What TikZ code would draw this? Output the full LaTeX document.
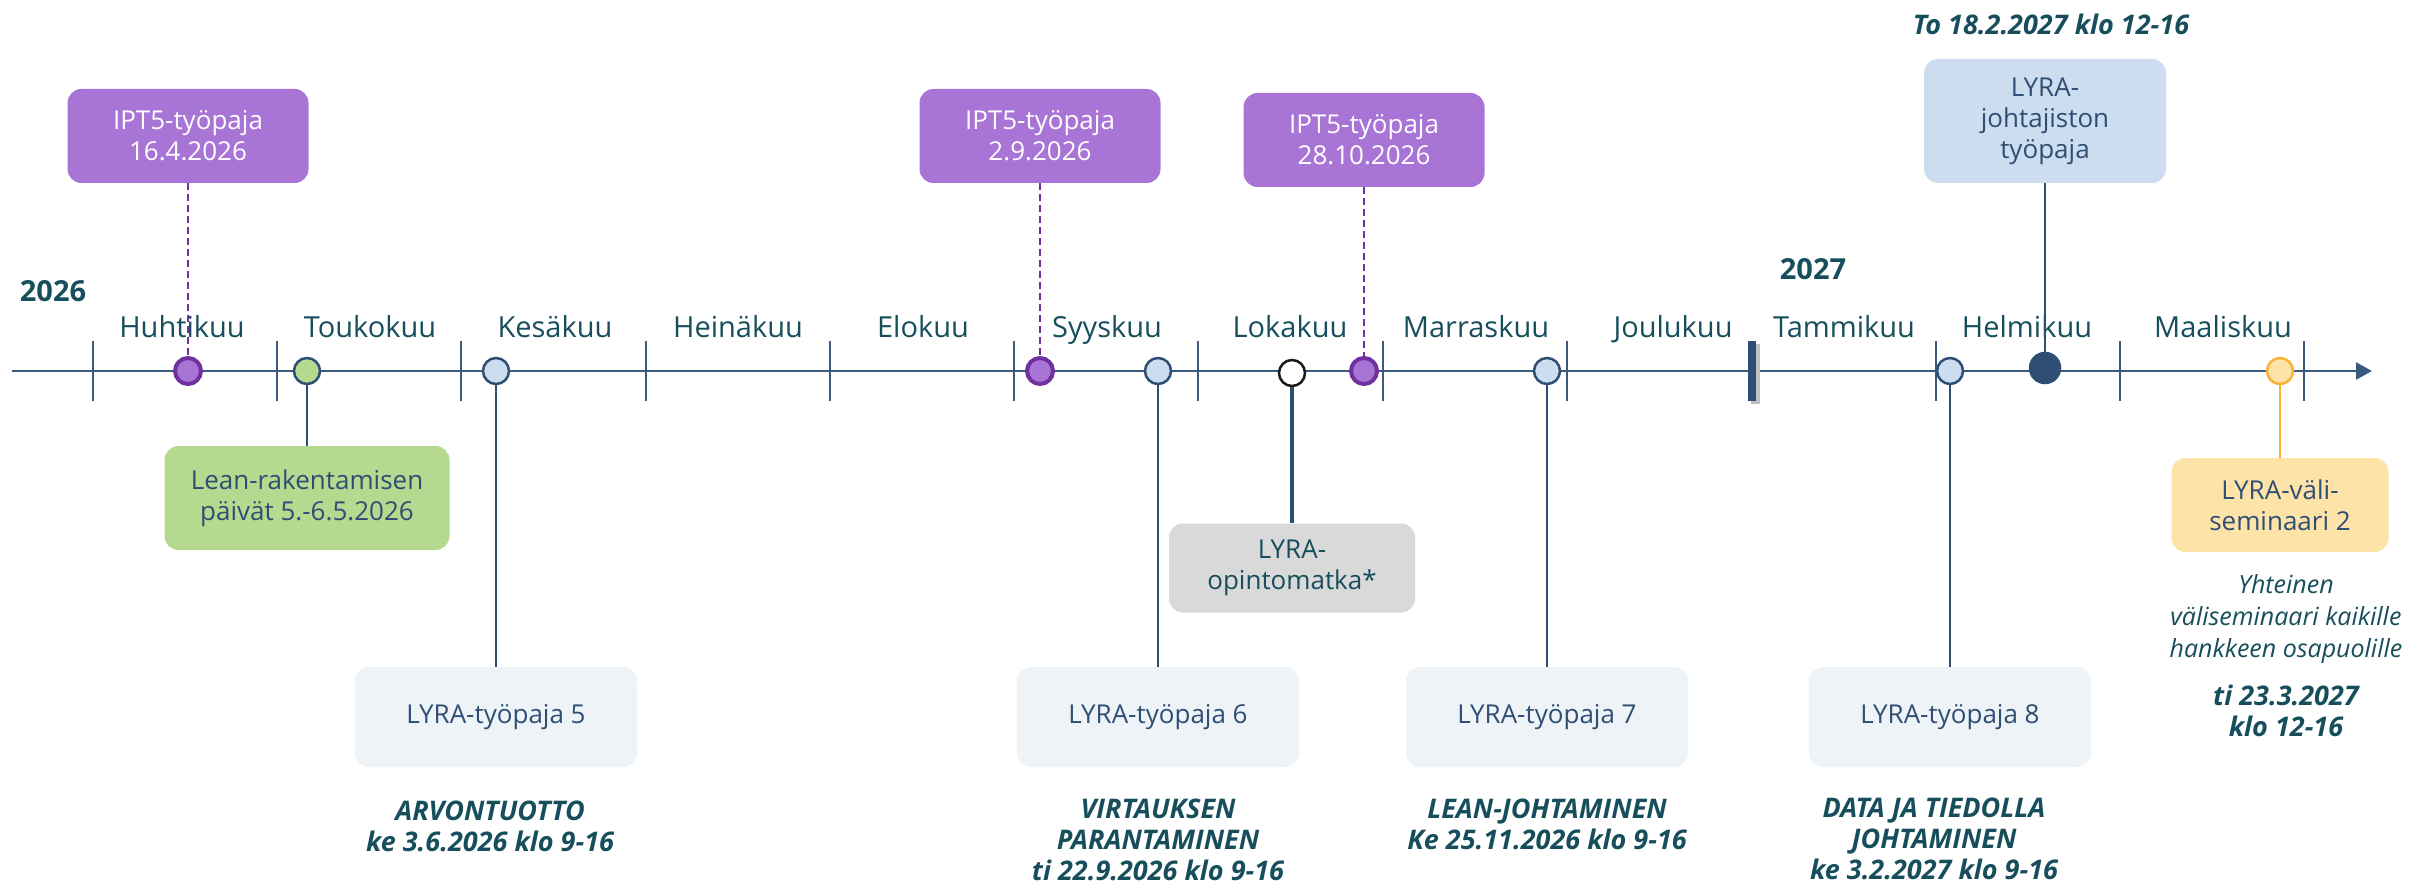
\documentclass[tikz,border=0pt]{standalone}
\usepackage{fontspec}
\setmainfont{Open Sans}
\usetikzlibrary{positioning, arrows.meta}

\definecolor{axisblue}{HTML}{3B5A82}
\definecolor{navy}{HTML}{2F4E74}
\definecolor{teal}{HTML}{174E5C}
\definecolor{iptfill}{HTML}{A874D6}
\definecolor{iptdark}{HTML}{7030A0}
\definecolor{lightblue}{HTML}{CCDDEF}
\definecolor{palebox}{HTML}{EEF3F8}
\definecolor{leangreen}{HTML}{B5D98E}
\definecolor{tripgray}{HTML}{D9D9D9}
\definecolor{valifill}{HTML}{FEE3A9}
\definecolor{valiline}{HTML}{F9B233}

\begin{document}
\begin{tikzpicture}[x=1pt, y=-1pt,
    box/.style={rounded corners=14pt, align=center, inner sep=0pt,
                font=\fontsize{26}{31}\selectfont},
    ipt/.style={box, fill=iptfill, text=white, minimum width=241pt, minimum height=94pt},
    lyra/.style={box, fill=palebox, text=navy, minimum width=282pt, minimum height=100pt},
    dot/.style={circle, inner sep=0pt, minimum size=26pt, draw=navy, line width=2.5pt},
    iptdot/.style={dot, fill=iptfill, draw=iptdark, line width=4pt},
    bluedot/.style={dot, fill=lightblue},
    iptline/.style={iptdark, dashed, line width=2.5pt, dash pattern=on 7pt off 4pt},
    link/.style={navy, line width=2.5pt},
    when/.style={align=center, inner sep=0pt, text=teal,
                 font=\fontsize{27}{31}\selectfont\bfseries\itshape},
    month/.style={anchor=base, text=teal, font=\fontsize{29}{34}\selectfont},
    year/.style={text=teal, font=\fontsize{29}{34}\selectfont\bfseries}]

  \useasboundingbox (0,0) rectangle (2414,885);

  % time axis
  \coordinate (start) at (12,371);
  \coordinate (end) at (2372,371);
  \draw[axisblue, line width=2.5pt, -{Triangle[length=16pt, width=17pt]}] (start) -- (end);
  \foreach \i in {0,...,8,10,11,12}
    \draw[axisblue, line width=2pt] ({92.6+184.3*\i},341) -- ++(0,60);
  \fill[black!25] (1751,344) rectangle (1760,404);
  \fill[navy] (1748,341) rectangle (1756,401);

  \foreach \x/\m in {182/Huhtikuu, 370/Toukokuu, 555/Kesäkuu, 738/Heinäkuu,
                     923/Elokuu, 1107/Syyskuu, 1290/Lokakuu, 1476/Marraskuu,
                     1673/Joulukuu, 1844/Tammikuu, 2027/Helmikuu, 2223/Maaliskuu}
    \node[month] at (\x,337) {\m};

  \node[year] (y26) at (53,291) {2026};
  \node[year] (y27) at (1813,269) {2027};

  % events on the axis
  \node[iptdot] (d1) at (188,371) {};
  \node[dot, fill=leangreen] (g1) at (307,371) {};
  \node[bluedot] (b5) at (496,371) {};
  \node[iptdot] (d2) at (1040,371) {};
  \node[bluedot] (b6) at (1158,371) {};
  \node[dot, fill=white, draw=black!90] (t1) at (1292,373) {};
  \node[iptdot] (d3) at (1364,371) {};
  \node[bluedot] (b7) at (1547,371) {};
  \node[bluedot] (b8) at (1950,371) {};
  \node[dot, fill=navy, minimum size=30pt] (jd) at (2045,368) {};
  \node[dot, fill=valifill, draw=valiline] (v2) at (2280,371) {};

  % IPT5 workshops
  \node[ipt] (ipt1) at (188,136) {IPT5-työpaja\\16.4.2026};
  \node[ipt] (ipt2) at (1040,136) {IPT5-työpaja\\2.9.2026};
  \node[ipt] (ipt3) at (1364,140) {IPT5-työpaja\\28.10.2026};
  \draw[iptline] (ipt1) -- (d1);
  \draw[iptline] (ipt2) -- (d2);
  \draw[iptline] (ipt3) -- (d3);

  % lean days
  \node[box, fill=leangreen, text=navy, minimum width=285pt, minimum height=104pt]
    (lean) at (307,498) {Lean-rakentamisen\\päivät 5.-6.5.2026};
  \draw[link] (g1) -- (lean);

  % LYRA workshops
  \node[lyra] (w5) at (496,717) {LYRA-työpaja 5};
  \node[lyra] (w6) at (1158,717) {LYRA-työpaja 6};
  \node[lyra] (w7) at (1547,717) {LYRA-työpaja 7};
  \node[lyra] (w8) at (1950,717) {LYRA-työpaja 8};
  \draw[link] (b5) -- (w5);
  \draw[link] (b6) -- (w6);
  \draw[link] (b7) -- (w7);
  \draw[link] (b8) -- (w8);

  \node[when, below=34pt of w5, xshift=-6pt] (t5) {ARVONTUOTTO\\ke 3.6.2026 klo 9-16};
  \node[when, below=32pt of w6] (t6) {VIRTAUKSEN\\PARANTAMINEN\\ti 22.9.2026 klo 9-16};
  \node[when, below=32pt of w7] (t7) {LEAN-JOHTAMINEN\\Ke 25.11.2026 klo 9-16};
  \node[when, below=31pt of w8, xshift=-16pt] (t8) {DATA JA TIEDOLLA\\JOHTAMINEN\\ke 3.2.2027 klo 9-16};

  % study trip
  \node[box, fill=tripgray, text=teal, minimum width=246pt, minimum height=89pt]
    (trip) at (1292,568) {LYRA-\\opintomatka*};
  \draw[navy, line width=4pt] (t1) -- (trip);

  % management workshop
  \node[box, fill=lightblue, text=navy, minimum width=242pt, minimum height=124pt]
    (johto) at (2045,121) {LYRA-\\johtajiston\\työpaja};
  \draw[link] (johto) -- (jd);
  \node[when, above=24pt of johto, xshift=6pt] (tj) {To 18.2.2027 klo 12-16};

  % seminar
  \node[box, fill=valifill, text=navy, minimum width=217pt, minimum height=94pt]
    (vali) at (2280,505) {LYRA-väli-\\seminaari 2};
  \draw[valiline, line width=2.5pt] (v2) -- (vali);
  \node[when, below=22pt of vali, xshift=6pt, font=\fontsize{25}{32}\selectfont\itshape]
    (yht) {Yhteinen\\väliseminaari kaikille\\hankkeen osapuolille};
  \node[when, below=21pt of yht] (tv) {ti 23.3.2027\\klo 12-16};

\end{tikzpicture}
\end{document}
